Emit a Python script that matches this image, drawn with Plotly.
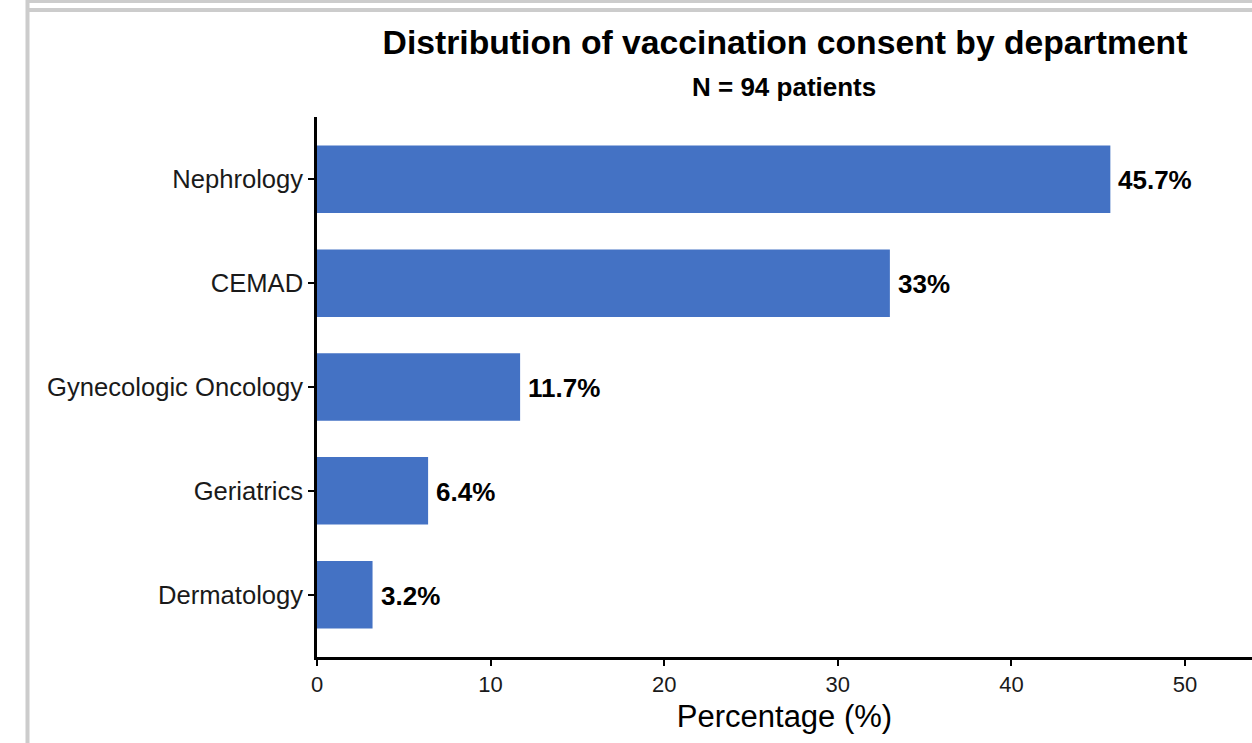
import plotly.graph_objects as go

departments = ["Nephrology", "CEMAD", "Gynecologic Oncology", "Geriatrics", "Dermatology"]
percentages = [45.7, 33.0, 11.7, 6.4, 3.2]
labels = ["45.7%", "33%", "11.7%", "6.4%", "3.2%"]
x_ticks = [0, 10, 20, 30, 40, 50]

W, H = 1252, 743
L, R, T, B = 317, 0, 117, 86
PW, PH = W - L - R, H - T - B

def px_x(p):
    return (p - L) / PW

def px_y(p):
    return (H - B - p) / PH

font = "Liberation Sans, Arial, sans-serif"
fig = go.Figure()
fig.add_trace(go.Bar(
    x=percentages, y=departments, orientation="h",
    marker=dict(color="#4472C4", line=dict(width=0)),
    width=0.65, hoverinfo="x+y",
))
for d, v, t in zip(departments, percentages, labels):
    fig.add_annotation(x=v, y=d, text="<b>%s</b>" % t, showarrow=False,
                       xanchor="left", xshift=6, yshift=-1,
                       font=dict(family=font, size=26, color="black"))

fig.update_layout(
    width=W, height=H,
    margin=dict(l=L, r=R, t=T, b=B, pad=0),
    paper_bgcolor="white", plot_bgcolor="white",
    showlegend=False,
    font=dict(family=font, color="black"),
    title=dict(text="<b>Distribution of vaccination consent by department</b>",
               x=px_x(785), xref="paper", xanchor="center",
               y=1 - 42 / H, yanchor="middle",
               font=dict(family=font, size=33.7, color="black")),
    bargap=0.35,
)
fig.add_annotation(text="<b>N = 94 patients</b>", xref="paper", yref="paper",
                   x=px_x(784), y=px_y(87), showarrow=False,
                   xanchor="center", yanchor="middle",
                   font=dict(family=font, size=26, color="black"))

fig.update_xaxes(range=[0, (W - L) / 17.36], tickvals=x_ticks,
                 showline=True, linecolor="black", linewidth=2.5,
                 ticks="outside", ticklen=6, tickwidth=2, tickcolor="black",
                 showgrid=False, zeroline=False,
                 tickfont=dict(family=font, size=22, color="#1a1a1a"),
                 title=dict(text="Percentage (%)", standoff=10,
                            font=dict(family=font, size=31, color="black")))
fig.update_yaxes(categoryorder="array", categoryarray=departments[::-1],
                 range=[-0.6, 4.6],
                 showline=True, linecolor="black", linewidth=2.5,
                 ticks="outside", ticklen=6, tickwidth=2, tickcolor="black",
                 showgrid=False, zeroline=False,
                 tickfont=dict(family=font, size=25.6, color="#1a1a1a"))

# viewer frame borders (grey)
grey = "#CCCCCC"
fig.add_shape(type="line", xref="paper", yref="paper",
              x0=px_x(26), x1=px_x(W), y0=px_y(1.5), y1=px_y(1.5),
              line=dict(color=grey, width=3))
fig.add_shape(type="line", xref="paper", yref="paper",
              x0=px_x(26), x1=px_x(W), y0=px_y(10), y1=px_y(10),
              line=dict(color=grey, width=4))
fig.add_shape(type="line", xref="paper", yref="paper",
              x0=px_x(27.5), x1=px_x(27.5), y0=px_y(0), y1=px_y(H),
              line=dict(color=grey, width=4))

fig.write_html("out.html", config={"displayModeBar": False},
               post_script="document.body.style.margin='0px';document.body.style.overflow='hidden';")
